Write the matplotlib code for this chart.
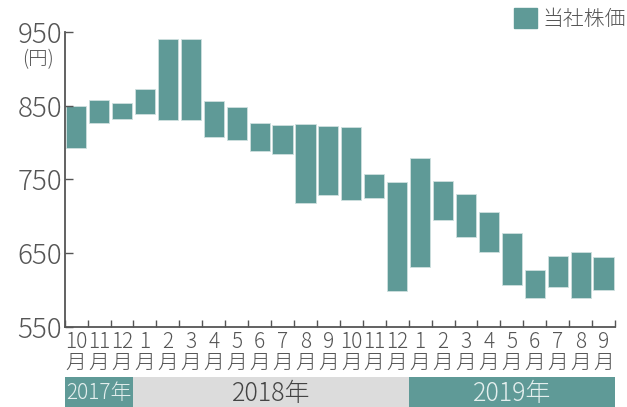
import matplotlib
matplotlib.use('Agg')
import matplotlib.pyplot as plt
from matplotlib.patches import Patch

# monthly trading range of the share price (yen)
months = [10, 11, 12, 1, 2, 3, 4, 5, 6, 7, 8, 9, 10, 11, 12,
          1, 2, 3, 4, 5, 6, 7, 8, 9]
highs = [849, 858, 854, 872, 940, 940, 857, 848, 827, 824, 825, 822, 821,
         757, 746, 779, 748, 730, 706, 677, 627, 646, 651, 645]
lows = [792, 827, 832, 839, 830, 830, 807, 803, 789, 784, 718, 729, 722,
        725, 598, 631, 695, 672, 652, 606, 589, 604, 589, 600]
yticks = [550, 650, 750, 850, 950]
years = ['2017年', '2018年', '2019年']
year_spans = [(0, 3), (3, 15), (15, 24)]
year_sizes = [15, 18, 18]

TEAL = '#5f9a97'
GREY = '#555555'
FONT = ['Liberation Sans Narrow', 'Noto Sans CJK JP']
plt.rcParams['font.family'] = FONT
plt.rcParams['font.weight'] = 'light'

fig = plt.figure(figsize=(6.27, 4.07), dpi=100)
ax = fig.add_axes([0.1032, 0.1973, 0.8777, 0.7241])

x = [i + 0.5 for i in range(len(months))]
heights = [h - l for h, l in zip(highs, lows)]
ax.bar(x, heights, bottom=lows, width=0.88, color=TEAL,
       edgecolor='#cfe0df', linewidth=0.6)

ax.set_xlim(0, len(months))
ax.set_ylim(550, 950)
for s in ['top', 'right']:
    ax.spines[s].set_visible(False)
for s in ['left', 'bottom']:
    ax.spines[s].set_color(GREY)
    ax.spines[s].set_linewidth(1.3)

ax.set_yticks(yticks)
ax.set_yticklabels([str(v) for v in yticks])
ax.tick_params(axis='y', direction='in', length=6, width=1, color=GREY,
               labelsize=20, labelcolor=GREY, pad=2)

ax.set_xticks(range(len(months) + 1))
ax.set_xticklabels([])
ax.tick_params(axis='x', which='major', direction='in', length=5, width=1,
               color=GREY)
ax.set_xticks(x, minor=True)
ax.set_xticklabels([f'{m}\n月' for m in months], minor=True)
ax.tick_params(axis='x', which='minor', length=0, labelsize=15,
               labelcolor=GREY, pad=3)
for lbl in ax.get_xticklabels(minor=True):
    lbl.set_linespacing(0.95)

# unit label under the top tick
ax.annotate('(円)', xy=(0, 950), xycoords=('axes fraction', 'data'),
            xytext=(-8, -12), textcoords='offset points',
            ha='right', va='top', fontsize=14, color=GREY)

leg = ax.legend(handles=[Patch(color=TEAL, label='当社株価')],
                loc='upper right', bbox_to_anchor=(1.035, 1.11),
                frameon=False, fontsize=15, handlelength=1.1,
                handleheight=1.1, handletextpad=0.25, borderaxespad=0)
for t in leg.get_texts():
    t.set_color(GREY)

# year band under the month labels
yax = fig.add_axes([0.1032, 0.0, 0.8777, 0.0745])
yax.set_xlim(0, len(months))
yax.set_ylim(0, 1)
yax.axis('off')
band_colors = [TEAL, '#dcdcdc', TEAL]
text_colors = ['#e4efee', '#444444', '#e4efee']
for name, (a, b), bc, tc, fs in zip(years, year_spans, band_colors,
                                     text_colors, year_sizes):
    yax.axvspan(a, b, color=bc, lw=0)
    yax.text((a + b) / 2, 0.45, name, ha='center', va='center',
             fontsize=fs, color=tc)

fig.savefig('out.png', dpi=100)
